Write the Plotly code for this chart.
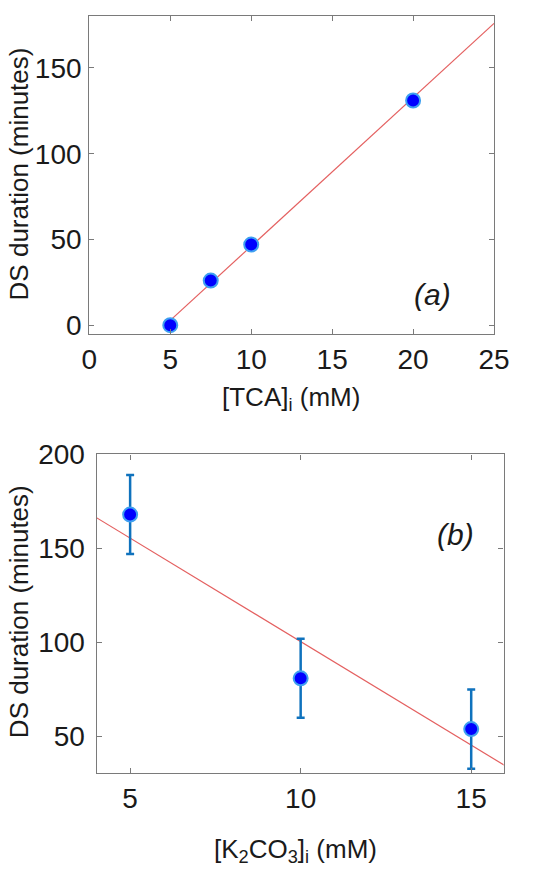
import plotly.graph_objects as go

# Panel (a) data
tca = [5, 7.5, 10, 20]
dur_a = [0, 26, 47, 131]
fit_a_x = [5, 25]
fit_a_y = [2.8, 176]

# Panel (b) data
k2co3 = [5, 10, 15]
dur_b = [168, 81, 54]
err_b = [21, 21, 21]
fit_b_x = [4, 16]
fit_b_y = [166.5, 34.5]

FONT = "Liberation Sans, Arial, Helvetica, sans-serif"
AX = "#7a7a7a"
RED = "#e46060"
W, H = 555, 875
FS = 28
TS = 26

fig = go.Figure()
fig.add_trace(go.Scatter(x=fit_a_x, y=fit_a_y, mode="lines", line=dict(color=RED, width=1.2),
                         xaxis="x", yaxis="y", showlegend=False))
fig.add_trace(go.Scatter(x=tca, y=dur_a, mode="markers",
                         marker=dict(size=14, color="#0000ff", line=dict(color="#3fa0f0", width=2)),
                         xaxis="x", yaxis="y", showlegend=False))
fig.add_trace(go.Scatter(x=fit_b_x, y=fit_b_y, mode="lines", line=dict(color=RED, width=1.2),
                         xaxis="x2", yaxis="y2", showlegend=False))
fig.add_trace(go.Scatter(x=k2co3, y=dur_b, mode="markers",
                         error_y=dict(type="data", array=err_b, visible=True, color="#0f72bd",
                                      thickness=2.5, width=4),
                         marker=dict(size=14, color="#0000ff", line=dict(color="#3fa0f0", width=2)),
                         xaxis="x2", yaxis="y2", showlegend=False))

common = dict(showline=True, linecolor=AX, linewidth=1.3, mirror="ticks", ticks="inside",
              ticklen=5, tickcolor=AX, showgrid=False, zeroline=False,
              tickfont=dict(family=FONT, size=FS, color="#1a1a1a"))

fig.update_layout(
    width=W, height=H, margin=dict(l=0, r=0, t=0, b=0),
    plot_bgcolor="white", paper_bgcolor="white",
    xaxis=dict(domain=[85/W, 508/W], range=[0, 25], tickvals=[0, 5, 10, 15, 20, 25],
               anchor="y", ticklabelstandoff=0, **common),
    yaxis=dict(domain=[1-327/H, 1-1/H], range=[-5, 180.3], tickvals=[0, 50, 100, 150],
               anchor="x", ticklabelstandoff=1, **common),
    xaxis2=dict(domain=[92.7/W, 518/W], range=[4.02, 15.95], tickvals=[5, 10, 15],
                anchor="y2", ticklabelstandoff=0, **common),
    yaxis2=dict(domain=[1-777.7/H, 1-450.7/H], range=[30.6, 200], tickvals=[50, 100, 150, 200],
                anchor="x2", ticklabelstandoff=5, **common),
)

tf = dict(family=FONT, size=TS, color="#1a1a1a")
ann = [
    dict(text="[TCA]<sub>i</sub> (mM)", x=296/W, y=1-393/H, textangle=0),
    dict(text="DS duration (minutes)", x=11/W, y=1-163/H, textangle=-90),
    dict(text="[K<sub>2</sub>CO<sub>3</sub>]<sub>i</sub> (mM)", x=300/W, y=1-857/H, textangle=0),
    dict(text="DS duration (minutes)", x=11/W, y=1-612/H, textangle=-90),
]
for a in ann:
    fig.add_annotation(xref="paper", yref="paper", showarrow=False, font=tf,
                       xanchor="center", yanchor="middle", **a)

fig.add_annotation(xref="paper", yref="paper", x=444/W, y=1-287/H, text="<i>(a)</i>",
                   showarrow=False, font=dict(family=FONT, size=30, color="#1a1a1a"),
                   xanchor="center", yanchor="middle")
fig.add_annotation(xref="paper", yref="paper", x=468/W, y=1-533/H, text="<i>(b)</i>",
                   showarrow=False, font=dict(family=FONT, size=30, color="#1a1a1a"),
                   xanchor="center", yanchor="middle")

fig.write_html("out.html")
